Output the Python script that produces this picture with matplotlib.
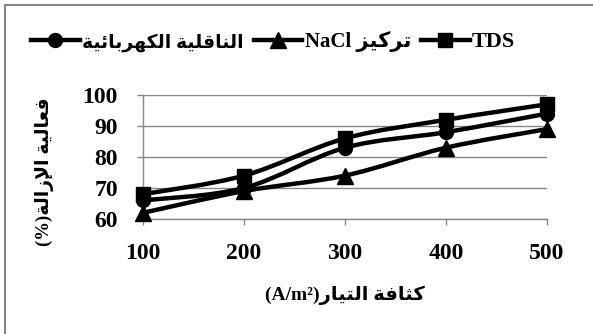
import matplotlib
matplotlib.use("Agg")
import matplotlib.pyplot as plt
from matplotlib.path import Path
from matplotlib.patches import PathPatch
from matplotlib.lines import Line2D

# current density (A/m2) and removal efficiency (%)
density = [100, 200, 300, 400, 500]
cond_eff = [66, 70, 83, 88, 94]     # electrical conductivity
nacl_eff = [62, 69, 74, 83, 89]     # NaCl concentration
tds_eff = [68, 74, 86, 92, 97]      # TDS
yticks = [60, 70, 80, 90, 100]

# contextual forms: isolated, final, initial, medial
FORMS = {
    'ا': ('\uFE8D', '\uFE8E', None, None),
    'إ': ('\uFE87', '\uFE88', None, None),
    'ب': ('\uFE8F', '\uFE90', '\uFE91', '\uFE92'),
    'ة': ('\uFE93', '\uFE94', None, None),
    'ت': ('\uFE95', '\uFE96', '\uFE97', '\uFE98'),
    'ث': ('\uFE99', '\uFE9A', '\uFE9B', '\uFE9C'),
    'ر': ('\uFEAD', '\uFEAE', None, None),
    'ز': ('\uFEAF', '\uFEB0', None, None),
    'ع': ('\uFEC9', '\uFECA', '\uFECB', '\uFECC'),
    'ف': ('\uFED1', '\uFED2', '\uFED3', '\uFED4'),
    'ق': ('\uFED5', '\uFED6', '\uFED7', '\uFED8'),
    'ك': ('\uFED9', '\uFEDA', '\uFEDB', '\uFEDC'),
    'ل': ('\uFEDD', '\uFEDE', '\uFEDF', '\uFEE0'),
    'ن': ('\uFEE5', '\uFEE6', '\uFEE7', '\uFEE8'),
    'ه': ('\uFEE9', '\uFEEA', '\uFEEB', '\uFEEC'),
    'ي': ('\uFEF1', '\uFEF2', '\uFEF3', '\uFEF4'),
    'ئ': ('\uFE89', '\uFE8A', '\uFE8B', '\uFE8C'),
}
LAM_ALEF = {'ا': ('\uFEFB', '\uFEFC', None, None),
            'إ': ('\uFEF9', '\uFEFA', None, None)}


def ar(text):
    """shape arabic text and return it in visual (left to right) order"""
    units = []
    i = 0
    while i < len(text):
        c = text[i]
        if c == 'ل' and i + 1 < len(text) and text[i + 1] in LAM_ALEF:
            units.append(LAM_ALEF[text[i + 1]])
            i += 2
            continue
        units.append(FORMS.get(c, c))
        i += 1
    out = []
    for k, u in enumerate(units):
        if isinstance(u, str):
            out.append(u)
            continue
        prev = k > 0 and not isinstance(units[k - 1], str) and units[k - 1][2] is not None
        nxt = (k + 1 < len(units) and not isinstance(units[k + 1], str)
               and u[2] is not None)
        if prev and nxt:
            out.append(u[3])
        elif prev:
            out.append(u[1])
        elif nxt:
            out.append(u[2])
        else:
            out.append(u[0])
    return ''.join(reversed(out))


labels = [ar('الناقلية الكهربائية'), 'NaCl ' + ar('تركيز'), 'TDS']
xlab = '(A/m²)' + ar('كثافة التيار')
ylab = '(%)' + ar('فعالية الإزالة')

plt.rcParams['font.family'] = ['Liberation Serif', 'DejaVu Sans']
plt.rcParams['font.weight'] = 'bold'

fig = plt.figure(figsize=(5.93, 3.34), dpi=100)
ax = fig.add_axes([143 / 593, 1 - 219 / 334, 404 / 593, 124 / 334])

grey = '#878787'


def smooth(x, y):
    # bezier curve through the points, excel style smoothing
    verts = [(x[0], y[0])]
    codes = [Path.MOVETO]
    n = len(x)
    for i in range(n - 1):
        x0, y0 = (x[i - 1], y[i - 1]) if i > 0 else (x[i], y[i])
        x3, y3 = (x[i + 2], y[i + 2]) if i + 2 < n else (x[i + 1], y[i + 1])
        c1 = (x[i] + (x[i + 1] - x0) / 6, y[i] + (y[i + 1] - y0) / 6)
        c2 = (x[i + 1] - (x3 - x[i]) / 6, y[i + 1] - (y3 - y[i]) / 6)
        verts += [c1, c2, (x[i + 1], y[i + 1])]
        codes += [Path.CURVE4] * 3
    return Path(verts, codes)


series = [(cond_eff, 'o', 10), (nacl_eff, '^', 11), (tds_eff, 's', 10)]
handles = []
for vals, mk, ms in series:
    ax.add_patch(PathPatch(smooth(density, vals), fill=False, lw=3.2,
                           ec='black', capstyle='round', joinstyle='round', zorder=3))
    ax.plot(density, vals, ls='none', marker=mk, ms=ms, color='black',
            zorder=4, clip_on=False)
    handles.append(Line2D([], [], color='black', lw=3.2, marker=mk, ms=ms))

ax.set_xlim(100, 500)
ax.set_ylim(60, 100)
ax.set_xticks(density)
ax.set_yticks(yticks)
ax.grid(axis='y', color=grey, lw=1)
ax.set_axisbelow(True)
for s in ['top', 'right']:
    ax.spines[s].set_visible(False)
for s in ['left', 'bottom']:
    ax.spines[s].set_color(grey)
    ax.spines[s].set_linewidth(1)
ax.tick_params(colors=grey, length=4, width=1, labelcolor='black',
               labelsize=17)
ax.tick_params(axis='y', pad=14)
ax.tick_params(axis='x', pad=13)

fig.text(345 / 593, 1 - 295 / 334, xlab, fontsize=14, fontweight='bold',
         ha='center', va='center')
fig.text(45 / 593, 1 - 172 / 334, ylab, rotation=90, fontsize=13.5,
         fontweight='bold', ha='center', va='center')

leg = fig.legend(handles, labels, loc='center', ncol=3, frameon=False,
                 bbox_to_anchor=(273 / 593, 1 - 42 / 334), fontsize=16,
                 handlelength=2.2, handletextpad=0.1, columnspacing=0.45)
for t, size in zip(leg.get_texts(), [13.5, 15, 16]):
    t.set_fontsize(size)

# chart area border
fig.add_artist(Line2D([5 / 593, 5 / 593], [0, 1 - 5 / 334], color=grey, lw=1.5))
fig.add_artist(Line2D([5 / 593, 1], [1 - 5 / 334, 1 - 5 / 334], color=grey, lw=1.5))

fig.savefig('out.png', dpi=100)
